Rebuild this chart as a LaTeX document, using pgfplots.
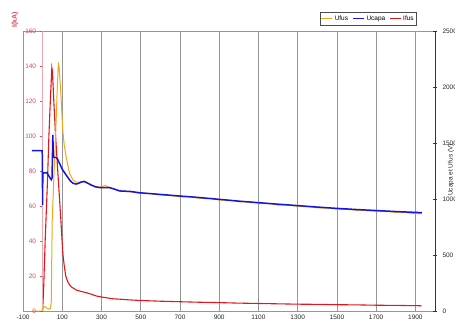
\documentclass[border=0pt]{standalone}
\usepackage{pgfplots}
\pgfplotsset{compat=1.18}
\usepackage{fontspec}
\setmainfont{Liberation Sans}
\definecolor{ored}{RGB}{228,20,28}
\definecolor{oblue}{RGB}{20,20,225}
\definecolor{oorange}{RGB}{245,165,25}
\definecolor{pinkax}{RGB}{240,165,175}
\definecolor{ticklab}{RGB}{222,70,90}
\definecolor{gridc}{RGB}{150,150,150}
\begin{document}
\begin{tikzpicture}
\pgfplotsset{
 every axis/.append style={scale only axis, height=280bp, anchor=south west},
 /pgf/number format/assume math mode=true,
 /pgf/number format/1000 sep={},
}
% main axis: box, grid, x ticks, Ifus
\begin{axis}[
 width=412bp, at={(0,0)},
 xmin=-100, xmax=2000, ymin=0, ymax=160,
 xtick={-100,100,...,1900},
 ytick=\empty,
 xmajorgrids, grid style={gridc, line width=0.8pt},
 axis line style={gridc, line width=0.8pt},
 tick style={draw=none},
 xticklabel style={font=\fontsize{6.5}{7}\selectfont, text=black!85},
]
\addplot[ored, line width=1.1pt] coordinates {
(0,0) (5,12) (13,40) (25,75) (32,100) (40,122) (47,139) (50,137) (57,120)
(66,100) (80,75) (93,52) (103,33) (110,26) (118,20) (127,17) (137,15)
(150,13.5) (171,12) (195,11.2) (222,10.5) (250,9.5) (273,8.6) (300,8.0)
(357,7.0) (400,6.7) (450,6.3) (500,6.0) (600,5.6) (700,5.3) (800,5.0)
(900,4.8) (1000,4.5) (1100,4.3) (1200,4.1) (1300,3.9) (1400,3.8)
(1500,3.6) (1600,3.5) (1700,3.3) (1800,3.2) (1930,3.0)};
\draw[black!75, line width=0.8pt] (rel axis cs:0,0) -- (rel axis cs:1,0);
\node[font=\bfseries\fontsize{7.5}{8}\selectfont] at (rel axis cs:0.534,1) [yshift=9bp] {I (t) et u(t)};
\node[font=\fontsize{2.8}{3}\selectfont, text=black!70] at (axis cs:1855,0) [yshift=-7bp] {temps (µs)};
\end{axis}
% left red axis at x = 0
\begin{axis}[
 width=392.38bp, at={(19.62bp,0)},
 xmin=0, xmax=2000, ymin=0, ymax=160,
 axis x line=none, axis y line*=left,
 ytick={0,20,...,160},
 y axis line style={pinkax, line width=0.8pt},
 ytick style={ticklab, line width=0.5pt},
 major tick length=3bp, tick align=outside,
 yticklabel style={text=ticklab, font=\fontsize{6.5}{7}\selectfont},
]
\end{axis}
% right axis: voltages
\begin{axis}[
 width=412bp, at={(0,0)},
 xmin=-100, xmax=2000, ymin=0, ymax=2500,
 axis x line=none, axis y line*=right,
 ytick={0,500,...,2500},
 y axis line style={black!80, line width=0.8pt},
 ytick style={black!80, line width=0.5pt},
 major tick length=4bp, tick align=center,
 yticklabel style={text=black!85, font=\fontsize{6.5}{7}\selectfont, xshift=2bp},
 legend columns=-1,
 legend style={at={(0.956,1.0214)}, anchor=south east,
   font=\fontsize{6.5}{7}\selectfont, draw=black!70, inner sep=1pt,
   /tikz/every even column/.append style={column sep=2pt}},
 legend image code/.code={\draw[#1] (0bp,0bp) -- (11bp,0bp);},
]
\addplot[oorange, line width=1pt] coordinates {
(-55,0) (-2,0) (3,39) (15,36) (30,16) (40,23) (44,78) (46,390) (49,813)
(57,1172) (66,1563) (74,1953) (79,2170) (81,2203) (84,2180) (90,2031)
(95,1875) (103,1609) (110,1484) (120,1375) (137,1230) (154,1172)
(170,1150) (190,1150) (213,1162) (240,1135) (270,1105) (300,1110)
(320,1121) (340,1104) (380,1080) (420,1070) (460,1060) (500,1050)
(560,1046) (600,1036) (650,1030) (700,1020) (760,1018) (800,1006)
(860,1002) (900,990) (950,990) (1000,975) (1060,972) (1100,960)
(1160,957) (1200,946) (1260,944) (1300,934) (1360,930) (1400,920)
(1460,919) (1500,909) (1560,906) (1600,898) (1660,897) (1700,889)
(1760,888) (1800,880) (1860,878) (1900,868) (1933,870)};
\addplot[oblue, line width=1.5pt] coordinates {
(-55,1431) (-2,1431) (0,947) (1,1234) (22,1234) (30,1211) (44,1172)
(48,1188) (52,1572) (55,1375) (73,1367) (86,1319) (100,1266) (120,1214)
(140,1164) (154,1141) (170,1133) (180,1138) (200,1153) (213,1155)
(230,1141) (247,1125) (270,1109) (290,1102) (340,1102) (370,1086)
(391,1072) (450,1067) (493,1056) (600,1041) (697,1027) (800,1013)
(900,997) (1000,981) (1103,967) (1205,953) (1300,941) (1400,928)
(1493,917) (1600,906) (1700,897) (1800,888) (1933,878)};
\addlegendimage{ored, line width=1pt}
\legend{Ufus,Ucapa,Ifus}
\end{axis}
\node[rotate=90, text=ticklab, font=\bfseries\fontsize{7}{8}\selectfont] at (-8bp,291bp) {I(kA)};
\node[rotate=90, text=black!85, font=\fontsize{6.5}{7}\selectfont] at (428bp,141bp) {Ucapa et Ufus (V)};
\pgfresetboundingbox
\path (-23bp,-16bp) rectangle (432bp,311bp);
\end{tikzpicture}
\end{document}
